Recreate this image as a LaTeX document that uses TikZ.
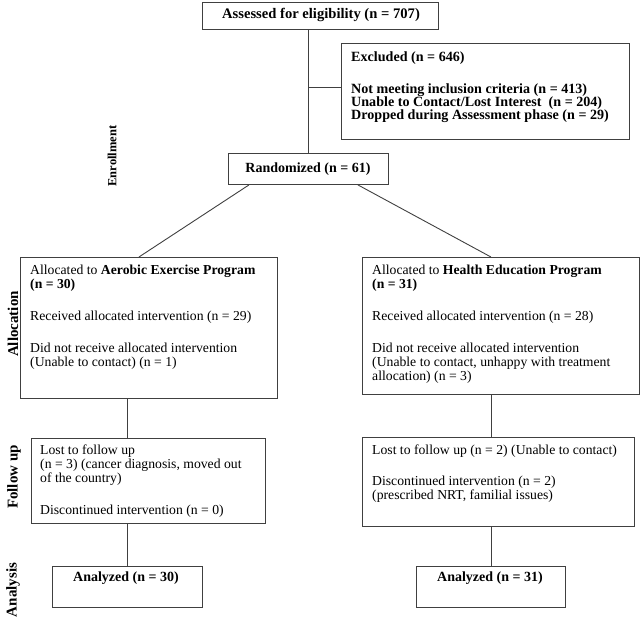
\documentclass[tikz,border=0pt]{standalone}
\usepackage{fontspec}
\setmainfont{Liberation Serif}
\usetikzlibrary{calc}
\begin{document}
\begin{tikzpicture}[x=1pt,y=-1pt,
  box/.style={draw=black!75, line width=0.9pt, inner sep=0pt, anchor=north west},
  txt/.style={inner sep=0pt, anchor=north west, align=left, font=\fontsize{13.7}{14}\selectfont},
  btxt/.style={inner sep=0pt, anchor=north west, align=left, font=\fontsize{14.1}{13.2}\selectfont\bfseries},
  ctxt/.style={inner sep=0pt, font=\fontsize{14}{14}\selectfont\bfseries},
  side/.style={rotate=90, inner sep=0pt, font=\fontsize{15}{16}\selectfont\bfseries},
  conn/.style={draw=black!75, line width=0.9pt}]
\useasboundingbox (0,0) rectangle (640,616);

% boxes
\node[box, minimum width=236pt, minimum height=27pt] (assess) at (202,2) {};
\node[box, minimum width=288pt, minimum height=96pt] (excl) at (341,43) {};
\node[box, minimum width=160pt, minimum height=31pt] (rand) at (228,153) {};
\node[box, minimum width=257pt, minimum height=141pt] (allocL) at (20,257) {};
\node[box, minimum width=277pt, minimum height=137pt] (allocR) at (362,257) {};
\node[box, minimum width=234pt, minimum height=85pt] (fuL) at (31,438) {};
\node[box, minimum width=272pt, minimum height=89pt] (fuR) at (362,437) {};
\node[box, minimum width=150pt, minimum height=41pt] (anL) at (52,566) {};
\node[box, minimum width=149pt, minimum height=41pt] (anR) at (416,566) {};

% texts
\node[ctxt, font=\fontsize{14.6}{14}\selectfont\bfseries] (assessT) at (321,15) {Assessed for eligibility (n = 707)};
\node[btxt] (exclT) at (351,52) {Excluded (n = 646)\\[18pt]
Not meeting inclusion criteria (n = 413)\\
Unable to Contact/Lost Interest\ \ (n = 204)\\
Dropped during Assessment phase (n = 29)};
\node[ctxt] (randT) at (308,169) {Randomized (n = 61)};
\node[txt] (allocLT) at (30,265) {Allocated to \textbf{Aerobic Exercise Program}\\
\textbf{(n = 30)}\\[18pt]
Received allocated intervention (n = 29)\\[18pt]
Did not receive allocated intervention\\
(Unable to contact) (n = 1)};
\node[txt] (allocRT) at (372,265) {Allocated to \textbf{Health Education Program}\\
\textbf{(n = 31)}\\[18pt]
Received allocated intervention (n = 28)\\[18pt]
Did not receive allocated intervention\\
(Unable to contact, unhappy with treatment\\
allocation) (n = 3)};
\node[txt] (fuLT) at (40,445) {Lost to follow up\\
(n = 3) (cancer diagnosis, moved out\\
of the country)\\[18pt]
Discontinued intervention (n = 0)};
\node[txt] (fuRT) at (372,445) {Lost to follow up (n = 2) (Unable to contact)\\[17pt]
Discontinued intervention (n = 2)\\
(prescribed NRT, familial issues)};
\node[ctxt] (anLT) at (126,578) {Analyzed (n = 30)};
\node[ctxt] (anRT) at (490,578) {Analyzed (n = 31)};

% side labels
\node[side, font=\fontsize{12.5}{14}\selectfont\bfseries] (enr) at (112,156) {Enrollment};
\node[side] (allo) at (13,324) {Allocation};
\node[side] (fol) at (14,477) {Follow up};
\node[side] (ana) at (13,590) {Analysis};

% connectors
\coordinate (br) at (rand.north |- 0,87);
\draw[conn] (assess.south -| rand.north) -- (rand.north);
\draw[conn] (br) -- (br -| excl.west);
\draw[conn] ($(rand.south west)+(21,0)$) -- ($(allocL.north)+(-10,0)$);
\draw[conn] ($(rand.south east)+(-31,0)$) -- (anR.north |- allocR.north);
\draw[conn] (anL.north |- allocL.south) -- (anL.north |- fuL.north);
\draw[conn] (anL.north |- fuL.south) -- (anL.north);
\draw[conn] (anR.north |- allocR.south) -- (anR.north |- fuR.north);
\draw[conn] (anR.north |- fuR.south) -- (anR.north);
\end{tikzpicture}
\end{document}
